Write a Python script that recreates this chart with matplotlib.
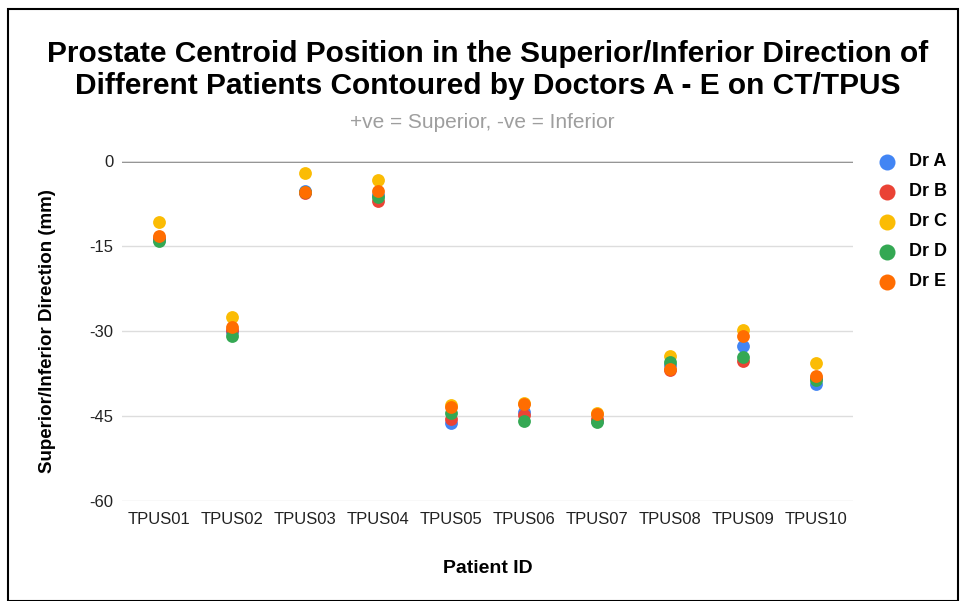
import matplotlib.pyplot as plt
from matplotlib.patches import Rectangle

patients = ["TPUS01", "TPUS02", "TPUS03", "TPUS04", "TPUS05",
            "TPUS06", "TPUS07", "TPUS08", "TPUS09", "TPUS10"]
doctors = ["Dr A", "Dr B", "Dr C", "Dr D", "Dr E"]

dr_a = [-14.0, -30.2, -5.3, -6.0, -46.2, -44.3, -45.8, -36.0, -32.6, -39.3]
dr_b = [-13.6, -29.8, -5.6, -7.0, -45.5, -44.8, -45.5, -36.9, -35.3, -38.3]
dr_c = [-10.8, -27.5, -2.1, -3.4, -43.1, -42.7, -44.4, -34.4, -29.8, -35.6]
dr_d = [-14.2, -30.9, -5.4, -6.3, -44.5, -45.9, -46.0, -35.5, -34.6, -38.6]
dr_e = [-13.2, -29.3, -5.5, -5.3, -43.4, -42.9, -44.6, -36.7, -30.9, -37.9]

colors = ["#4285F4", "#EA4335", "#FBBC04", "#34A853", "#FF6D01"]
y_ticks = [0, -15, -30, -45, -60]

plt.rcParams['font.family'] = ['Liberation Sans', 'DejaVu Sans']

fig = plt.figure(figsize=(9.65, 6.01), dpi=100)
ax = fig.add_axes([0.1264, 0.1664, 0.7575, 0.5657])

x = list(range(len(patients)))
for name, vals, c in zip(doctors, [dr_a, dr_b, dr_c, dr_d, dr_e], colors):
    ax.scatter(x, vals, s=85, color=c, label=name, zorder=3, linewidths=0)

ax.set_xlim(-0.5, len(patients) - 0.5)
ax.set_ylim(-60, 0)
ax.set_yticks(y_ticks)
ax.set_yticklabels([str(t) for t in y_ticks])
ax.set_xticks(x)
ax.set_xticklabels(patients)
ax.tick_params(length=0, labelsize=12, colors="#222222")
ax.tick_params(axis="y", pad=6)
ax.tick_params(axis="x", pad=8)
ax.yaxis.grid(True, color="#dddddd", linewidth=1, zorder=0)
ax.axhline(0, color="#777777", linewidth=2, zorder=1)
for s in ax.spines.values():
    s.set_visible(False)

ax.set_xlabel("Patient ID", fontsize=14, fontweight="bold", labelpad=24)
ax.set_ylabel("Superior/Inferior Direction (mm)", fontsize=13.5, fontweight="bold", labelpad=24)

fig.text(0.505, 0.884, "Prostate Centroid Position in the Superior/Inferior Direction of\n"
         "Different Patients Contoured by Doctors A - E on CT/TPUS",
         ha="center", va="center", fontsize=21.5, fontweight="bold", linespacing=1.2)
fig.text(0.5, 0.797, "+ve = Superior, -ve = Inferior", ha="center", va="center",
         fontsize=15, color="#9e9e9e")

leg = ax.legend(loc="upper left", bbox_to_anchor=(1.0, 1.07), frameon=False,
                handletextpad=0.2, labelspacing=0.72, markerscale=1.25,
                prop={"weight": "bold", "size": 13})

fig.patches.append(Rectangle((0.008, 0.0), 0.985, 0.985, transform=fig.transFigure,
                             fill=False, edgecolor="black", linewidth=1.5))

fig.savefig("out.png", dpi=100)
